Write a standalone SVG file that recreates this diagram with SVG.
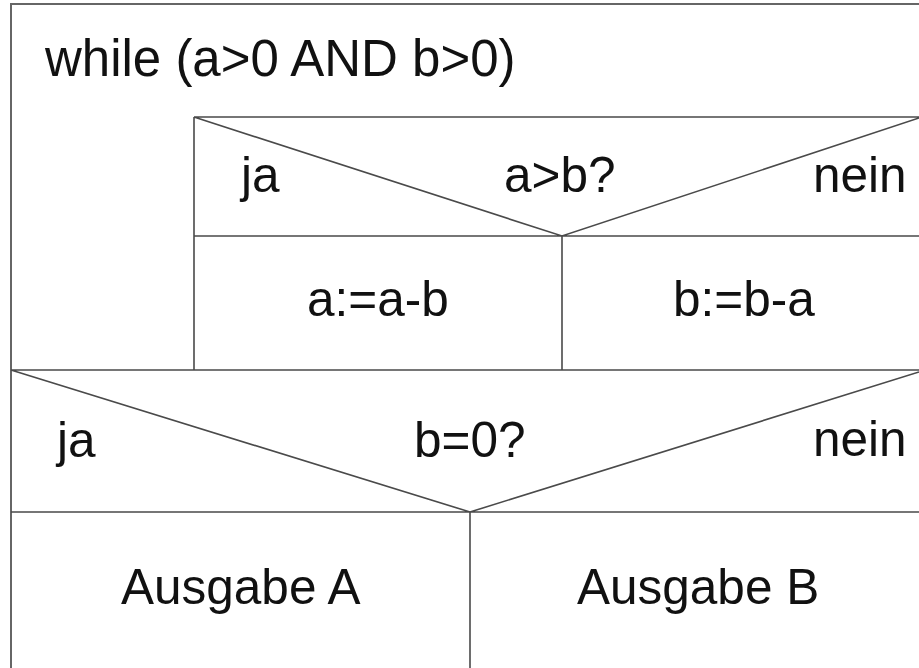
<svg xmlns="http://www.w3.org/2000/svg" width="919" height="668" viewBox="0 0 919 668">
<style>
.ln{stroke:#4a4a4a;stroke-width:1.6;fill:none}
.bx{stroke:#666;stroke-width:2;fill:none}
text{font-family:"Liberation Sans",Arial,sans-serif;font-size:49.5px;fill:#111}
.big{font-size:51px}
</style>
<rect x="0" y="0" width="919" height="668" fill="#fff"/>
<g id="loop">
<path class="bx" d="M919,4 H11 V668"/>
<text class="big" x="45" y="76">while (a&gt;0 AND b&gt;0)</text>
</g>
<g id="cond1">
<path class="ln" d="M194,117 H919 M194,117 V370 M194,117 L562,236 L919,118 M194,236 H919"/>
<text x="241" y="192">ja</text>
<text x="504" y="192">a&gt;b?</text>
<text x="813" y="192">nein</text>
</g>
<g id="assignA">
<text x="307" y="316">a:=a-b</text>
</g>
<g id="assignB">
<text x="673" y="316">b:=b-a</text>
</g>
<g id="cond2">
<path class="ln" d="M11,370 H919 M11,370 L470,512 L919,372 M11,512 H919"/>
<text x="57" y="457">ja</text>
<text x="414" y="457">b=0?</text>
<text x="813" y="456">nein</text>
</g>
<g id="outA">
<text x="121" y="604">Ausgabe A</text>
</g>
<g id="outB">
<text x="577" y="604">Ausgabe B</text>
</g>
<g id="connectors">
<path class="ln" d="M562,236 V370 M470,512 V668"/>
</g>
</svg>
